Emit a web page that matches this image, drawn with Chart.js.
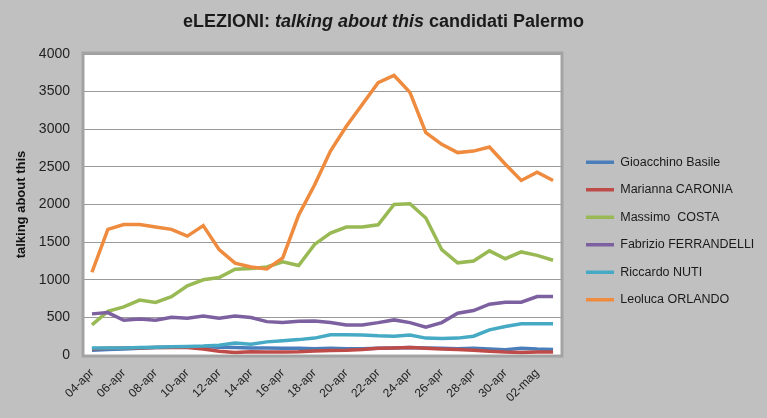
<!DOCTYPE html>
<html>
<head>
<meta charset="utf-8">
<script src="https://cdn.jsdelivr.net/npm/chart.js@4/dist/chart.umd.min.js"></script>
<style>
  html, body { margin: 0; padding: 0; background: #c0c0c0; }
  #wrap { position: relative; width: 767px; height: 418px; }
</style>
</head>
<body>
<div id="wrap"><canvas id="chart"></canvas></div>
<script>
// 04-apr .. 03-mag, one point per day
const days = ['04-apr','05-apr','06-apr','07-apr','08-apr','09-apr','10-apr','11-apr','12-apr','13-apr',
  '14-apr','15-apr','16-apr','17-apr','18-apr','19-apr','20-apr','21-apr','22-apr','23-apr',
  '24-apr','25-apr','26-apr','27-apr','28-apr','29-apr','30-apr','01-mag','02-mag','03-mag'];

const basile      = [65, 75, 80, 90, 100, 105, 110, 110, 105, 100, 95, 95, 90, 90, 85, 90, 85, 85, 90, 95, 100, 95, 90, 85, 90, 80, 70, 90, 80, 75];
const caronia     = [85, 90, 95, 95, 100, 100, 100, 80, 50, 35, 45, 40, 40, 45, 55, 60, 65, 75, 90, 95, 100, 90, 80, 75, 65, 50, 40, 35, 40, 40];
const costa       = [400, 580, 640, 730, 700, 775, 920, 1000, 1030, 1140, 1150, 1170, 1240, 1190, 1470, 1620, 1700, 1700, 1730, 2000, 2010, 1820, 1400, 1225, 1250, 1385, 1280, 1370, 1325, 1260];
const ferrandelli = [547, 564, 462, 480, 462, 502, 489, 520, 489, 520, 498, 444, 431, 450, 453, 431, 400, 400, 431, 467, 431, 369, 431, 556, 591, 676, 702, 702, 778, 778];
const nuti        = [95, 95, 95, 100, 105, 110, 115, 120, 130, 160, 145, 175, 190, 205, 225, 270, 270, 265, 255, 250, 265, 225, 220, 225, 250, 335, 380, 415, 415, 415];
const orlando     = [1100, 1670, 1733, 1733, 1700, 1670, 1580, 1720, 1400, 1222, 1170, 1145, 1290, 1860, 2260, 2710, 3040, 3330, 3620, 3715, 3490, 2955, 2800, 2690, 2710, 2765, 2535, 2320, 2430, 2320];

const names  = ['Gioacchino Basile', 'Marianna CARONIA', 'Massimo  COSTA', 'Fabrizio FERRANDELLI', 'Riccardo NUTI', 'Leoluca ORLANDO'];
const series = [basile, caronia, costa, ferrandelli, nuti, orlando];
const colors = ['#4a7ebb', '#be4b48', '#98b954', '#7d60a0', '#46aac5', '#ee8b3e'];

const yTicks = { min: 0, max: 4000, step: 500 };

// plot area white fill + grey frame, and the mixed-style title
const frame = {
  id: 'frame',
  afterLayout(chart) {
    // push the legend column a bit away from the plot
    chart.legend.left += 10;
    chart.legend.right += 20;
  },
  beforeDraw(chart) {
    const { ctx, chartArea: a } = chart;
    ctx.save();
    ctx.fillStyle = '#ffffff';
    ctx.fillRect(a.left, a.top, a.right - a.left, a.bottom - a.top);
    ctx.restore();
  },
  afterDraw(chart) {
    const { ctx, chartArea: a } = chart;
    ctx.save();
    ctx.strokeStyle = '#a3a3a3';
    ctx.lineWidth = 3;
    ctx.strokeRect(a.left - 1, a.top - 1, a.right - a.left + 2, a.bottom - a.top + 2);

    const parts = [
      ['bold 18px "Liberation Sans"', 'eLEZIONI: '],
      ['italic bold 18px "Liberation Sans"', 'talking about this'],
      ['bold 18px "Liberation Sans"', ' candidati Palermo']
    ];
    let total = 0;
    parts.forEach(p => { ctx.font = p[0]; total += ctx.measureText(p[1]).width; });
    let x = chart.width / 2 - total / 2;
    ctx.fillStyle = '#1a1a1a';
    ctx.textBaseline = 'middle';
    parts.forEach(p => {
      ctx.font = p[0];
      ctx.fillText(p[1], x, 22);
      x += ctx.measureText(p[1]).width;
    });
    ctx.restore();
  }
};

new Chart(document.getElementById('chart'), {
  type: 'line',
  data: {
    labels: days,
    datasets: series.map((d, i) => ({
      label: names[i],
      data: d,
      borderColor: colors[i],
      backgroundColor: colors[i],
      borderWidth: 3.5,
      pointRadius: 0,
      tension: 0,
      order: 5 - i
    }))
  },
  options: {
    responsive: true,
    maintainAspectRatio: false,
    animation: false,
    layout: { padding: { top: 54, right: 21, left: 6, bottom: 10 } },
    plugins: {
      title: { display: false },
      tooltip: { enabled: false },
      legend: {
        position: 'right',
        labels: {
          usePointStyle: true,
          pointStyle: 'line',
          pointStyleWidth: 28,
          boxHeight: 13,
          padding: 15,
          color: '#1a1a1a',
          font: { family: 'Liberation Sans', size: 12.5 },
          sort: (a, b) => a.datasetIndex - b.datasetIndex
        }
      }
    },
    scales: {
      x: {
        offset: true,
        grid: { display: false },
        border: { display: false },
        ticks: {
          autoSkip: false,
          maxRotation: 45,
          minRotation: 45,
          color: '#222',
          font: { family: 'Liberation Sans', size: 12 },
          callback: function (v, i) { return i % 2 === 0 ? this.getLabelForValue(v) : ''; }
        }
      },
      y: {
        min: yTicks.min,
        max: yTicks.max,
        afterFit(scale) { scale.width = 78; },
        grid: { color: '#9a9a9a', lineWidth: 1, drawTicks: false },
        border: { display: false },
        ticks: {
          stepSize: yTicks.step,
          padding: 14,
          color: '#222',
          font: { family: 'Liberation Sans', size: 14 },
          callback: v => String(v)
        },
        title: {
          display: true,
          text: 'talking about this',
          color: '#111',
          padding: { top: 8, bottom: 0 },
          font: { family: 'Liberation Sans', size: 13, weight: 'bold' }
        }
      }
    }
  },
  plugins: [frame]
});
</script>
</body>
</html>
